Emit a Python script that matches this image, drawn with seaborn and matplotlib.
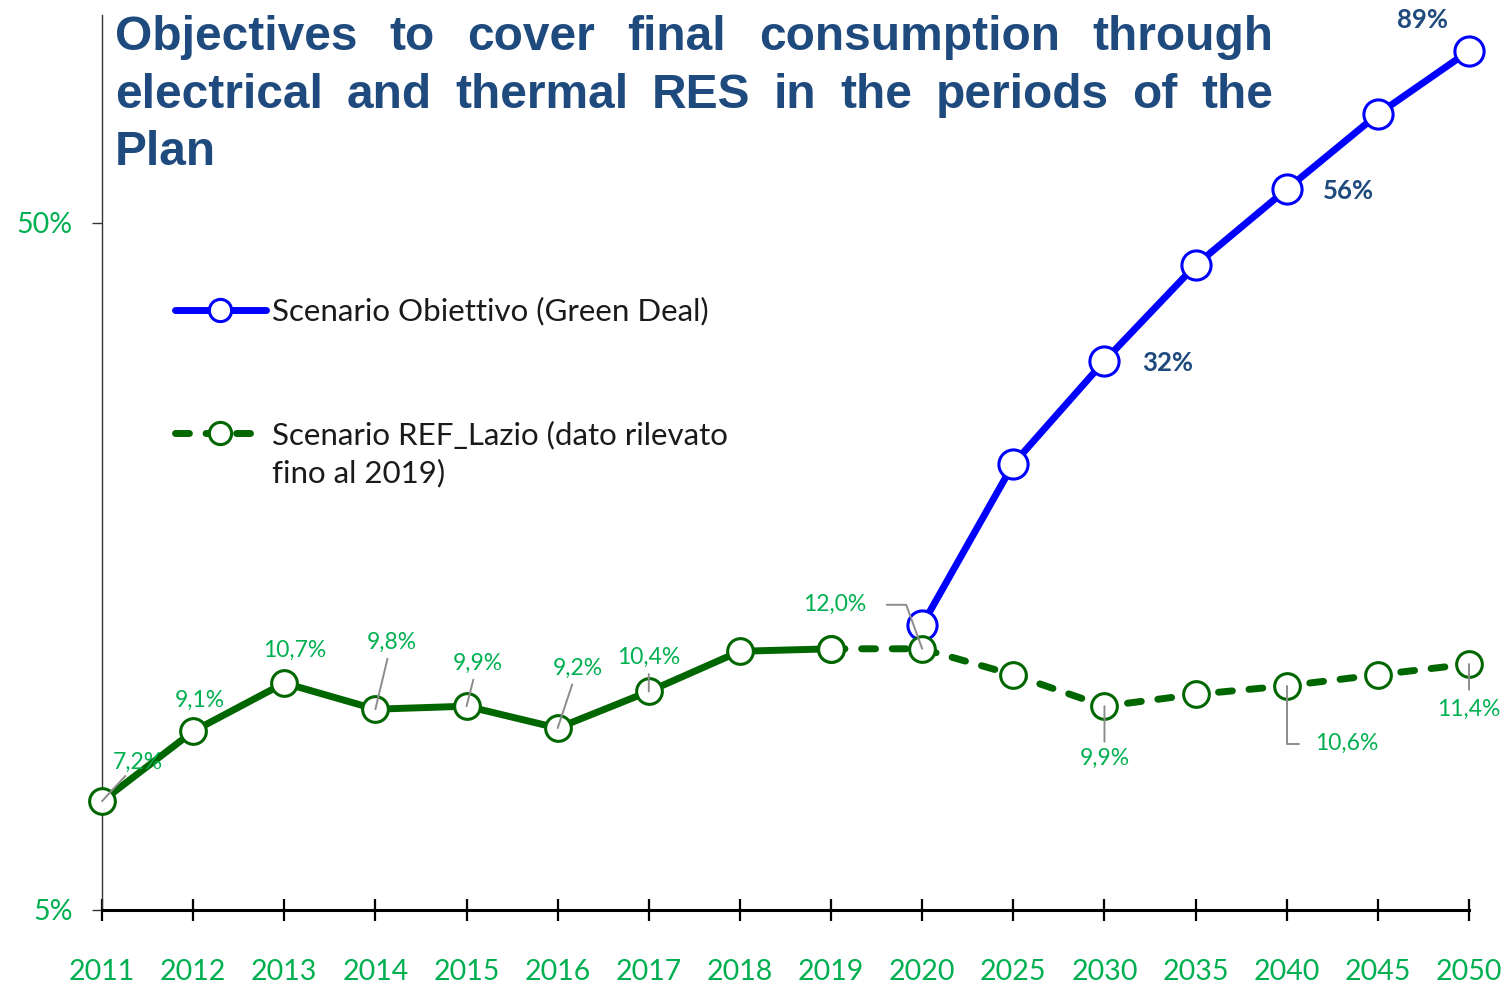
import matplotlib.pyplot as plt
import numpy as np
import pandas as pd
import seaborn as sns
from matplotlib.ticker import NullLocator

# data
years = ["2011", "2012", "2013", "2014", "2015", "2016", "2017", "2018",
         "2019", "2020", "2025", "2030", "2035", "2040", "2045", "2050"]
ref_values = [7.2, 9.1, 10.7, 9.8, 9.9, 9.2, 10.4, 11.9,
              12.0, 12.0, 11.0, 9.9, 10.3, 10.6, 11.0, 11.4]
ref_labels = ["7,2%", "9,1%", "10,7%", "9,8%", "9,9%", "9,2%", "10,4%", "",
              "", "12,0%", "", "9,9%", "", "10,6%", "", "11,4%"]
goal_years = ["2020", "2025", "2030", "2035", "2040", "2045", "2050"]
goal_values = [13.0, 22.3, 31.5, 43.4, 56.0, 72.0, 89.0]
goal_labels = ["", "", "32%", "", "56%", "", "89%"]
last_observed = "2019"

title_lines = ["Objectives to cover final consumption through",
               "electrical and thermal RES in the periods of the",
               "Plan"]
goal_name = "Scenario Obiettivo (Green Deal)"
ref_name = ["Scenario REF_Lazio (dato rilevato", "fino al 2019)"]

# colours / fonts
BLUE = "#0000FF"
DKGREEN = "#006600"
LBLGREEN = "#00B050"
NAVY = "#1F4A7E"
LEADER = "#8C8C8C"

W, H = 1509, 986

sns.set_theme(style="white")
plt.rcParams["font.family"] = ["Lato", "DejaVu Sans"]

ref = pd.DataFrame({"year": years, "value": ref_values, "label": ref_labels})
ref["pos"] = np.arange(len(ref))
goal = pd.DataFrame({"year": goal_years, "value": goal_values, "label": goal_labels})
goal["pos"] = goal["year"].map(dict(zip(years, ref["pos"])))

cut = years.index(last_observed)
ref_obs = ref.iloc[:cut + 1]
ref_proj = ref.iloc[cut:]

fig = plt.figure(figsize=(W / 100, H / 100), dpi=100)
ax = fig.add_axes([102 / W, 1 - 910 / H, (1469 - 102) / W, (910 - 15) / H])

sns.lineplot(data=goal, x="pos", y="value", ax=ax, color=BLUE, lw=5,
             marker="o", markersize=21, markerfacecolor="white",
             markeredgecolor=BLUE, markeredgewidth=2.2, clip_on=False,
             label=goal_name, zorder=3)
sns.lineplot(data=ref_obs, x="pos", y="value", ax=ax, color=DKGREEN, lw=5,
             marker="o", markersize=18.5, markerfacecolor="white",
             markeredgecolor=DKGREEN, markeredgewidth=2.2, clip_on=False,
             solid_capstyle="round", zorder=4)
sns.lineplot(data=ref_proj, x="pos", y="value", ax=ax, color=DKGREEN, lw=5,
             linestyle=(0, (2.0, 2.4)), dash_capstyle="round",
             marker="o", markersize=18.5, markerfacecolor="white",
             markeredgecolor=DKGREEN, markeredgewidth=2.2, clip_on=False,
             label=ref_name[0], zorder=4)

ax.set_yscale("log")
ax.set_ylim(5, 100.4)
ax.set_xlim(0, len(years) - 1)
ax.set_yticks([5, 50])
ax.set_yticklabels(["5%", "50%"])
ax.yaxis.set_minor_locator(NullLocator())
ax.set_xticks(ref["pos"])
ax.set_xticklabels(years)
ax.set_xlabel("")
ax.set_ylabel("")

for lab in ax.get_xticklabels() + ax.get_yticklabels():
    lab.set_color(LBLGREEN)
    lab.set_fontsize(20.5)
ax.tick_params(axis="x", direction="inout", length=16, width=1.6, color="black", pad=27)
ax.tick_params(axis="y", direction="out", length=7, width=1.0, color="#333333", pad=14)
ax.tick_params(left=True, bottom=True)
sns.despine(ax=ax)
ax.spines["bottom"].set_linewidth(2.2)
ax.spines["bottom"].set_color("black")
ax.spines["left"].set_linewidth(1.0)
ax.spines["left"].set_color("#333333")

# green labels: (dx, dy) in pixels, shrinkA, connection style or None for no leader
ref_style = {
    "2011": (36, 39, 0, "arc3"),
    "2012": (7, 31, 0, None),
    "2013": (10, 33, 0, None),
    "2014": (16, 67, 2, "arc3"),
    "2015": (11, 43, 2, "arc3"),
    "2016": (20, 60, 2, "arc3"),
    "2017": (0, 34, 2, "arc3"),
    "2020": (-87, 44, 12, "angle,angleA=0,angleB=110,rad=0"),
    "2030": (0, -52, 2, "arc3"),
    "2040": (60, -58, 9, "angle,angleA=0,angleB=90,rad=0"),
    "2050": (0, -45, 4, "arc3"),
}
for _, row in ref.iterrows():
    if not row["label"]:
        continue
    dx, dy, sa, conn = ref_style[row["year"]]
    arrow = None
    if conn is not None:
        arrow = dict(arrowstyle="-", color=LEADER, lw=1.4, shrinkA=sa, shrinkB=0,
                     connectionstyle=conn)
    ax.annotate(row["label"], xy=(row["pos"], row["value"]), xytext=(dx, dy),
                textcoords="offset pixels", ha="center", va="center",
                color=LBLGREEN, fontsize=16.5, arrowprops=arrow, zorder=6,
                annotation_clip=False)

goal_style = {"2030": (63, -2), "2040": (62, -2), "2050": (-47, 31)}
for _, row in goal.iterrows():
    if not row["label"]:
        continue
    dx, dy = goal_style[row["year"]]
    ax.annotate(row["label"], xy=(row["pos"], row["value"]), xytext=(dx, dy),
                textcoords="offset pixels", ha="center", va="center",
                color=NAVY, fontsize=18.5, fontweight="bold", annotation_clip=False)

leg = ax.legend(loc="upper left", bbox_to_anchor=(175 / W, 1 - 297 / H),
                bbox_transform=fig.transFigure, frameon=False, fontsize=22.5,
                handlelength=2.9, handletextpad=0.2, labelspacing=3.03,
                borderpad=0, borderaxespad=0)
for t in leg.get_texts():
    t.set_color("#1A1A1A")
for h in leg.legend_handles:
    h.set_markersize(16)

fig.canvas.draw()
renderer = fig.canvas.get_renderer()

# second line of the green legend entry
bb = leg.get_texts()[1].get_window_extent(renderer)
fig.text(bb.x0 / W, (bb.y0 + bb.y1) / 2 / H - 38 / H, ref_name[1], fontsize=22.5,
         color="#1A1A1A", va="center", ha="left")

# justified title
title_kw = dict(fontsize=34.5, fontweight="bold", color=NAVY,
                family="Liberation Sans", va="baseline", ha="left")
baselines = [50, 108, 165]
left, right = 115, 1273
for i, (line, base) in enumerate(zip(title_lines, baselines)):
    words = line.split()
    texts = [fig.text(left / W, 1 - base / H, w, **title_kw) for w in words]
    if i == len(title_lines) - 1 or len(words) == 1:
        texts[0].set_text(line)
        for t in texts[1:]:
            t.remove()
        continue
    widths = [t.get_window_extent(renderer).width for t in texts]
    gap = (right - left - sum(widths)) / (len(words) - 1)
    x = left
    for t, w in zip(texts, widths):
        t.set_x(x / W)
        x += w + gap

fig.savefig("out.png", dpi=100)
